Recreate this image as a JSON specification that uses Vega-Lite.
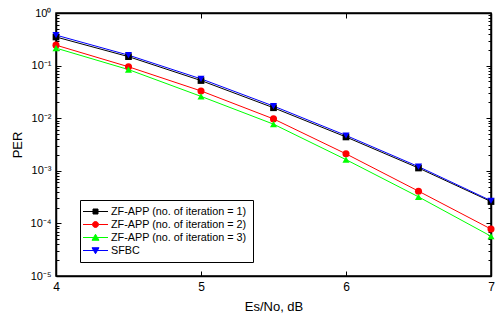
{
  "$schema": "https://vega.github.io/schema/vega-lite/v6.json",
  "width": 435,
  "height": 263,
  "autosize": "none",
  "padding": {"left": 56, "top": 13, "right": 6, "bottom": 45},
  "background": "white",
  "config": {
    "font": "Liberation Sans",
    "view": {"stroke": "black", "strokeWidth": 1.5},
    "axis": {
      "domainColor": "black",
      "domainWidth": 1.5,
      "tickColor": "black",
      "tickWidth": 1,
      "grid": false,
      "labelColor": "black",
      "titleColor": "black",
      "titleFontWeight": "normal",
      "titleFont": "Liberation Sans",
      "labelFont": "Liberation Sans"
    }
  },
  "data": {
    "values": [
      {"series": "ZF-APP (no. of iteration = 1)", "x": 4, "y": 0.35},
      {"series": "ZF-APP (no. of iteration = 1)", "x": 4.5, "y": 0.148},
      {"series": "ZF-APP (no. of iteration = 1)", "x": 5, "y": 0.052},
      {"series": "ZF-APP (no. of iteration = 1)", "x": 5.5, "y": 0.0158},
      {"series": "ZF-APP (no. of iteration = 1)", "x": 6, "y": 0.0044},
      {"series": "ZF-APP (no. of iteration = 1)", "x": 6.5, "y": 0.00113},
      {"series": "ZF-APP (no. of iteration = 1)", "x": 7, "y": 0.00026},
      {"series": "ZF-APP (no. of iteration = 2)", "x": 4, "y": 0.245},
      {"series": "ZF-APP (no. of iteration = 2)", "x": 4.5, "y": 0.095},
      {"series": "ZF-APP (no. of iteration = 2)", "x": 5, "y": 0.033},
      {"series": "ZF-APP (no. of iteration = 2)", "x": 5.5, "y": 0.0097},
      {"series": "ZF-APP (no. of iteration = 2)", "x": 6, "y": 0.0021},
      {"series": "ZF-APP (no. of iteration = 2)", "x": 6.5, "y": 0.00041},
      {"series": "ZF-APP (no. of iteration = 2)", "x": 7, "y": 0.000078},
      {"series": "ZF-APP (no. of iteration = 3)", "x": 4, "y": 0.215},
      {"series": "ZF-APP (no. of iteration = 3)", "x": 4.5, "y": 0.084},
      {"series": "ZF-APP (no. of iteration = 3)", "x": 5, "y": 0.026},
      {"series": "ZF-APP (no. of iteration = 3)", "x": 5.5, "y": 0.0077},
      {"series": "ZF-APP (no. of iteration = 3)", "x": 6, "y": 0.00163},
      {"series": "ZF-APP (no. of iteration = 3)", "x": 6.5, "y": 0.00032},
      {"series": "ZF-APP (no. of iteration = 3)", "x": 7, "y": 0.000057},
      {"series": "SFBC", "x": 4, "y": 0.38},
      {"series": "SFBC", "x": 4.5, "y": 0.158},
      {"series": "SFBC", "x": 5, "y": 0.056},
      {"series": "SFBC", "x": 5.5, "y": 0.017},
      {"series": "SFBC", "x": 6, "y": 0.0047},
      {"series": "SFBC", "x": 6.5, "y": 0.0012},
      {"series": "SFBC", "x": 7, "y": 0.00027}
    ]
  },
  "layer": [
    {
      "mark": {"type": "line", "strokeWidth": 1},
      "encoding": {
        "x": {
          "field": "x", "type": "quantitative",
          "scale": {"domain": [4, 7], "nice": false, "zero": false},
          "axis": {
            "values": [4, 5, 6, 7], "tickSize": -5, "labelPadding": 10,
            "labelFontSize": 12, "labelFlush": false,
            "title": "Es/No, dB", "titleFontSize": 13, "titlePadding": 8
          }
        },
        "y": {
          "field": "y", "type": "quantitative",
          "scale": {"type": "log", "domain": [0.00001, 1], "nice": false},
          "axis": {
            "values": [0.00001,0.00002,0.00003,0.00004,0.00005,0.00006,0.00007,0.00008,0.00009,
                       0.0001,0.0002,0.0003,0.0004,0.0005,0.0006,0.0007,0.0008,0.0009,
                       0.001,0.002,0.003,0.004,0.005,0.006,0.007,0.008,0.009,
                       0.01,0.02,0.03,0.04,0.05,0.06,0.07,0.08,0.09,
                       0.1,0.2,0.3,0.4,0.5,0.6,0.7,0.8,0.9,1],
            "tickSize": {"condition": {"test": "abs(log(datum.value)/LN10 - round(log(datum.value)/LN10)) < 0.001", "value": -5}, "value": -3},
            "labelExpr": "abs(log(datum.value)/LN10 - round(log(datum.value)/LN10)) < 0.001 ? ['10⁰','10⁻¹','10⁻²','10⁻³','10⁻⁴','10⁻⁵'][-round(log(datum.value)/LN10)] : ''",
            "labelOverlap": false, "labelFlush": false,
            "labelPadding": 10, "labelFontSize": 11,
            "title": "PER", "titleFontSize": 13, "titlePadding": 6
          }
        },
        "color": {
          "field": "series", "type": "nominal",
          "scale": {
            "domain": ["ZF-APP (no. of iteration = 1)", "ZF-APP (no. of iteration = 2)", "ZF-APP (no. of iteration = 3)", "SFBC"],
            "range": ["#000000", "#ff0000", "#00ff00", "#0000ff"]
          },
          "legend": {
            "title": null,
            "orient": "none",
            "legendX": 24,
            "legendY": 187,
            "strokeColor": "black",
            "fillColor": "white",
            "padding": 6,
            "labelFontSize": 10.8,
            "labelColor": "black",
            "labelFont": "Liberation Sans",
            "rowPadding": 1,
            "symbolSize": 100,
            "symbolOffset": 4,
            "labelOffset": 10,
            "encode": {
              "symbols": {
                "update": {
                  "shape": {"signal": "datum.value == 'SFBC' ? 'M-2.5,0H2.5M-0.7,-0.55H0.7L0,0.65Z' : datum.value == 'ZF-APP (no. of iteration = 1)' ? 'M-2.5,0H2.5M-0.5,-0.5H0.5V0.5H-0.5Z' : datum.value == 'ZF-APP (no. of iteration = 2)' ? 'M-2.5,0H-0.6M0.6,0H2.5M-0.6,0A0.6,0.6,0,1,0,0.6,0A0.6,0.6,0,1,0,-0.6,0Z' : 'M-2.5,0H2.5M-0.7,0.55H0.7L0,-0.65Z'"},
                  "stroke": {"signal": "scale('color', datum.value)"},
                  "fill": {"signal": "scale('color', datum.value)"},
                  "strokeWidth": {"value": 1},
                  "opacity": {"value": 1}
                }
              }
            }
          }
        }
      }
    },
    {
      "transform": [{"filter": "datum.series == 'ZF-APP (no. of iteration = 1)'"}],
      "mark": {"type": "point", "filled": true, "size": 45, "opacity": 1, "shape": "square"},
      "encoding": {
        "x": {"field": "x", "type": "quantitative", "axis": null},
        "y": {"field": "y", "type": "quantitative", "axis": null},
        "color": {"field": "series", "type": "nominal"}
      }
    },
    {
      "transform": [{"filter": "datum.series == 'ZF-APP (no. of iteration = 2)'"}],
      "mark": {"type": "point", "filled": true, "size": 50, "opacity": 1, "shape": "circle"},
      "encoding": {
        "x": {"field": "x", "type": "quantitative", "axis": null},
        "y": {"field": "y", "type": "quantitative", "axis": null},
        "color": {"field": "series", "type": "nominal"}
      }
    },
    {
      "transform": [{"filter": "datum.series == 'ZF-APP (no. of iteration = 3)'"}],
      "mark": {"type": "point", "filled": true, "size": 50, "opacity": 1, "shape": "triangle-up"},
      "encoding": {
        "x": {"field": "x", "type": "quantitative", "axis": null},
        "y": {"field": "y", "type": "quantitative", "axis": null},
        "color": {"field": "series", "type": "nominal"}
      }
    },
    {
      "transform": [{"filter": "datum.series == 'SFBC'"}],
      "mark": {"type": "point", "filled": true, "size": 50, "opacity": 1, "shape": "triangle-down"},
      "encoding": {
        "x": {"field": "x", "type": "quantitative", "axis": null},
        "y": {"field": "y", "type": "quantitative", "axis": null},
        "color": {"field": "series", "type": "nominal"}
      }
    },
    {
      "mark": {"type": "line", "opacity": 0},
      "encoding": {
        "x": {"field": "x", "type": "quantitative",
              "axis": {"orient": "top", "values": [4, 5, 6, 7], "tickSize": -5, "labels": false, "title": null}},
        "y": {"field": "y", "type": "quantitative",
              "axis": {"orient": "right",
                       "values": [0.00001,0.00002,0.00003,0.00004,0.00005,0.00006,0.00007,0.00008,0.00009,
                                  0.0001,0.0002,0.0003,0.0004,0.0005,0.0006,0.0007,0.0008,0.0009,
                                  0.001,0.002,0.003,0.004,0.005,0.006,0.007,0.008,0.009,
                                  0.01,0.02,0.03,0.04,0.05,0.06,0.07,0.08,0.09,
                                  0.1,0.2,0.3,0.4,0.5,0.6,0.7,0.8,0.9,1],
                       "tickSize": {"condition": {"test": "abs(log(datum.value)/LN10 - round(log(datum.value)/LN10)) < 0.001", "value": -5}, "value": -3},
                       "labels": false, "title": null}},
        "detail": {"field": "series", "type": "nominal"}
      }
    }
  ],
  "resolve": {"axis": {"x": "independent", "y": "independent"}}
}
